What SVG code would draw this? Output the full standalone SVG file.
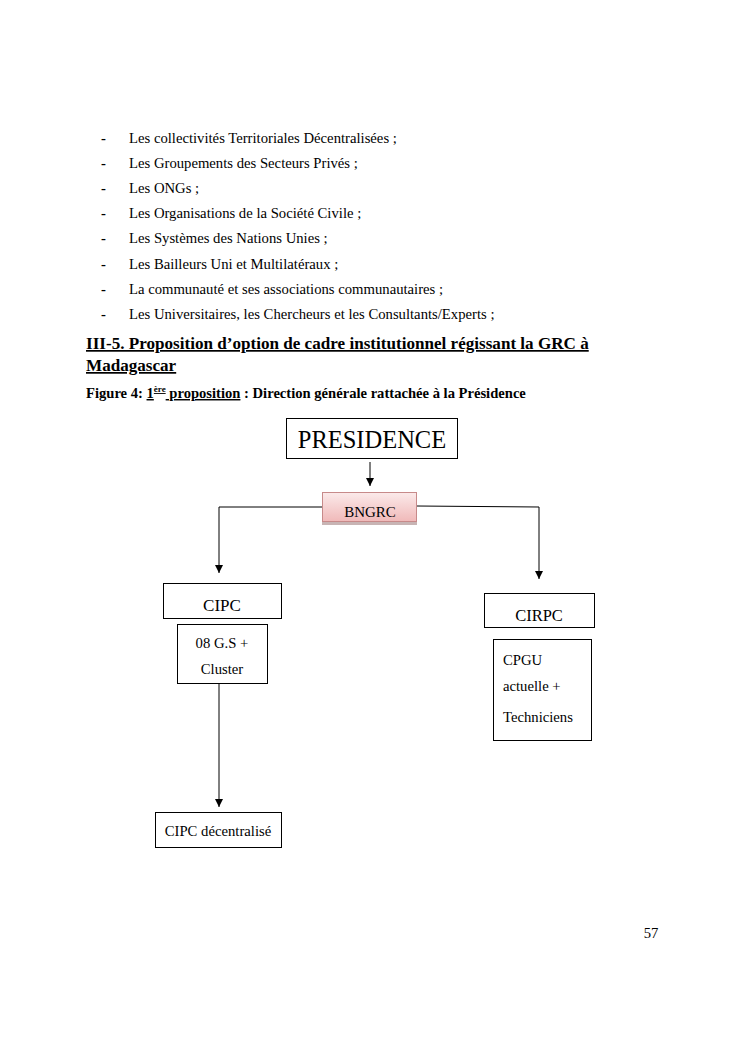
<svg xmlns="http://www.w3.org/2000/svg" width="744" height="1053" viewBox="0 0 744 1053">
<style>
text{font-family:"Liberation Serif","Times New Roman",serif;fill:#000}
.b{font-size:14.7px}
.t{font-size:14.7px}
.box{fill:#fff;stroke:#000;stroke-width:1}
.ln{fill:none;stroke:#000;stroke-width:1}
</style>
<defs>
<marker id="a" viewBox="0 0 8 8" markerWidth="8" markerHeight="8" refX="8" refY="4" orient="auto" markerUnits="userSpaceOnUse"><path d="M0,0 L8,4 L0,8 z" fill="#000"/></marker>
<linearGradient id="pg" x1="0" y1="0" x2="0" y2="1"><stop offset="0" stop-color="#fbeaea"/><stop offset="1" stop-color="#f0b9b9"/></linearGradient>
</defs>
<rect width="744" height="1053" fill="#fff"/>
<g id="bullets" class="b">
<text x="101" y="143" font-weight="bold">-</text><text x="129" y="143">Les collectivités Territoriales Décentralisées ;</text>
<text x="101" y="168" font-weight="bold">-</text><text x="129" y="168">Les Groupements des Secteurs Privés ;</text>
<text x="101" y="193" font-weight="bold">-</text><text x="129" y="193">Les ONGs ;</text>
<text x="101" y="218" font-weight="bold">-</text><text x="129" y="218">Les Organisations de la Société Civile ;</text>
<text x="101" y="243" font-weight="bold">-</text><text x="129" y="243">Les Systèmes des Nations Unies ;</text>
<text x="101" y="269" font-weight="bold">-</text><text x="129" y="269">Les Bailleurs Uni et Multilatéraux ;</text>
<text x="101" y="294" font-weight="bold">-</text><text x="129" y="294">La communauté et ses associations communautaires ;</text>
<text x="101" y="319" font-weight="bold">-</text><text x="129" y="319">Les Universitaires, les Chercheurs et les Consultants/Experts ;</text>
</g>
<g id="heading">
<text x="86" y="349" font-size="17.1" font-weight="bold" text-decoration="underline">III-5. Proposition d’option de cadre institutionnel régissant la GRC à</text>
<text x="86" y="371" font-size="17.1" font-weight="bold" text-decoration="underline">Madagascar</text>
<text x="86" y="398" font-size="14.6" font-weight="bold">Figure 4: <tspan text-decoration="underline">1<tspan dy="-6" font-size="9">ère</tspan><tspan dy="6"> proposition</tspan></tspan> : Direction générale rattachée à la Présidence</text>
</g>
<g id="connectors">
<line class="ln" x1="370" y1="462" x2="370" y2="486" marker-end="url(#a)"/>
<polyline class="ln" points="322,507 219,507 219,573" marker-end="url(#a)"/>
<polyline class="ln" points="417,506 539,507 539,579" marker-end="url(#a)"/>
<line class="ln" x1="219" y1="683" x2="219" y2="807" marker-end="url(#a)"/>
</g>
<g id="presidence">
<rect class="box" x="286.5" y="418.5" width="171" height="40"/>
<text x="372" y="448" font-size="24.5" text-anchor="middle">PRESIDENCE</text>
</g>
<g id="bngrc">
<rect x="322" y="521" width="95" height="4" fill="#c8b4b4"/>
<rect x="322.5" y="492.5" width="94" height="29" fill="url(#pg)" stroke="#c78a8a" stroke-width="1"/>
<text x="370" y="517" font-size="15" text-anchor="middle">BNGRC</text>
</g>
<g id="cipc">
<rect class="box" x="163.5" y="583.5" width="118" height="35"/>
<text x="222" y="611" font-size="17" text-anchor="middle">CIPC</text>
</g>
<g id="gs">
<rect class="box" x="177.5" y="624.5" width="90" height="59"/>
<text x="222" y="648" class="t" text-anchor="middle">08 G.S +</text>
<text x="222" y="674" class="t" text-anchor="middle">Cluster</text>
</g>
<g id="cipc-dec">
<rect class="box" x="155.5" y="812.5" width="126" height="35"/>
<text x="218" y="836" class="t" text-anchor="middle">CIPC décentralisé</text>
</g>
<g id="cirpc">
<rect class="box" x="484.5" y="593.5" width="110" height="34"/>
<text x="539" y="621" font-size="16.5" text-anchor="middle">CIRPC</text>
</g>
<g id="cpgu">
<rect class="box" x="493.5" y="639.5" width="98" height="101"/>
<text x="503" y="665" class="t">CPGU</text>
<text x="503" y="691" class="t">actuelle +</text>
<text x="503" y="722" class="t">Techniciens</text>
</g>
<text x="651" y="938" class="t" text-anchor="middle">57</text>
</svg>
